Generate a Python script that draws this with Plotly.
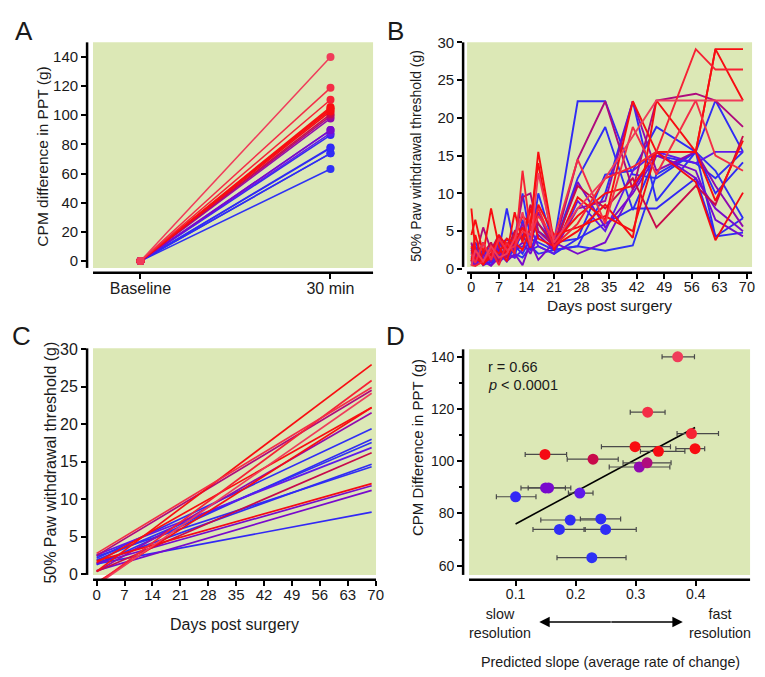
import numpy as np
import plotly.graph_objects as go

W, H = 765, 677

# ------------------------------------------------------------------ data
subject_ids = [f"S{i:02d}" for i in range(1, 20)]
# CPM difference at 30 min (panel A / panel D y values)
cpm_difference = [140.0, 118.8, 110.6, 105.6, 104.8, 103.8, 100.8, 99.4, 97.8, 102.6,
                  89.8, 89.8, 86.4, 87.8, 77.5, 77.9, 73.9, 73.9, 63.1]
baseline_difference = 0.0
# predicted slope (panel D x values, also slope of panel C lines)
predicted_slope = [0.370, 0.320, 0.393, 0.299, 0.399, 0.338, 0.229, 0.319, 0.306, 0.149,
                   0.150, 0.155, 0.100, 0.207, 0.191, 0.242, 0.250, 0.173, 0.227]
slope_err_minus = [0.026, 0.029, 0.024, 0.056, 0.032, 0.030, 0.043, 0.040, 0.050, 0.033,
                   0.041, 0.034, 0.032, 0.019, 0.049, 0.034, 0.036, 0.044, 0.058]
slope_err_plus = [0.028, 0.029, 0.045, 0.059, 0.016, 0.044, 0.042, 0.040, 0.051, 0.036,
                  0.033, 0.037, 0.034, 0.022, 0.049, 0.033, 0.051, 0.043, 0.057]
# intercepts of the individual fitted lines (panel C)
fit_intercept = [-1.4, 2.8, -1.3, 1.6, 0.4, -1.1, 0.4, 2.5, 0.4, 1.8,
                 1.45, 0.5, 1.4, 2.6, 1.5, 1.3, 2.15, 2.4, 1.9]
fit_days = [0, 69]

timepoint_labels = ["Baseline", "30 min"]

# panel B: 50% paw withdrawal threshold per subject
survey_days = [0, 1, 3, 5, 7, 9, 11, 13, 15, 17, 21, 27, 34, 41, 47, 57, 62, 69]
pwt_s01 = [0.4, 2.5, 1.0, 3.0, 1.5, 2.0, 4.0, 7.5, 3.0, 12.7, 3.5, 8.0, 12.0, 17.5, 22.3, 22.3, 22.3, 22.3]
pwt_s02 = [2.0, 0.8, 3.5, 1.2, 4.0, 2.5, 3.0, 5.0, 4.5, 7.0, 4.0, 14.5, 6.0, 18.8, 12.5, 22.3, 15.0, 13.0]
pwt_s03 = [0.5, 0.4, 1.0, 2.5, 0.5, 3.5, 2.0, 13.0, 5.0, 8.0, 3.0, 6.0, 12.0, 13.5, 15.5, 29.1, 26.4, 26.4]
pwt_s04 = [8.0, 2.5, 0.5, 3.0, 2.0, 4.0, 3.5, 2.5, 5.5, 15.5, 3.5, 7.0, 10.0, 11.0, 15.5, 15.5, 9.0, 17.0]
pwt_s05 = [4.5, 6.5, 2.0, 8.0, 3.0, 1.0, 4.5, 7.0, 6.0, 14.0, 2.5, 9.5, 6.5, 22.2, 15.5, 15.5, 29.1, 29.1]
pwt_s06 = [1.0, 4.5, 0.8, 1.5, 4.0, 2.0, 7.5, 3.5, 8.0, 4.0, 3.0, 5.0, 8.5, 4.1, 22.3, 15.5, 29.1, 22.3]
pwt_s07 = [2.5, 1.0, 2.0, 3.5, 1.0, 2.5, 5.0, 4.0, 8.5, 6.0, 3.0, 11.0, 8.0, 12.0, 5.5, 11.0, 8.5, 17.6]
pwt_s08 = [3.5, 1.5, 5.5, 2.5, 4.5, 1.5, 3.5, 9.5, 10.0, 5.0, 3.0, 14.5, 22.2, 10.5, 22.3, 23.2, 22.3, 18.8]
pwt_s09 = [1.5, 0.8, 2.0, 1.0, 3.0, 4.0, 2.5, 6.0, 3.5, 7.5, 2.5, 8.0, 9.0, 22.2, 13.0, 15.5, 11.0, 5.6]
pwt_s10 = [3.0, 1.5, 0.6, 2.0, 4.5, 3.0, 3.5, 5.5, 2.8, 8.5, 4.5, 5.5, 7.0, 5.0, 15.5, 11.5, 3.8, 10.1]
pwt_s11 = [1.0, 2.0, 0.5, 1.5, 2.5, 1.0, 2.0, 0.5, 3.5, 1.2, 3.5, 2.0, 3.5, 10.5, 15.5, 12.0, 8.0, 5.0]
pwt_s12 = [0.8, 0.5, 1.0, 0.4, 1.5, 3.0, 2.5, 3.5, 2.0, 4.5, 2.5, 11.5, 5.5, 10.0, 15.0, 13.0, 6.5, 4.3]
pwt_s13 = [3.3, 2.5, 0.5, 1.0, 2.0, 1.5, 2.5, 3.0, 2.5, 3.0, 2.0, 4.0, 6.0, 8.0, 8.0, 12.0, 4.3, 4.8]
pwt_s14 = [1.2, 0.6, 1.5, 2.5, 0.8, 2.0, 1.5, 2.5, 5.5, 3.0, 2.0, 9.0, 5.0, 13.0, 15.5, 14.0, 15.5, 15.5]
pwt_s15 = [2.8, 1.0, 3.5, 0.8, 2.5, 8.0, 3.0, 4.5, 2.5, 5.0, 3.5, 4.0, 12.5, 13.0, 18.8, 15.5, 10.0, 14.1]
pwt_s16 = [1.5, 3.0, 1.0, 2.0, 1.0, 2.5, 4.0, 10.0, 4.0, 6.0, 3.5, 22.2, 22.2, 12.5, 12.0, 15.5, 22.3, 15.5]
pwt_s17 = [0.5, 1.5, 2.5, 1.0, 3.5, 2.0, 1.5, 6.5, 3.0, 10.0, 3.0, 12.0, 18.8, 7.8, 15.0, 14.0, 12.0, 15.5]
pwt_s18 = [2.0, 3.5, 1.5, 0.5, 2.0, 1.0, 3.0, 2.0, 4.0, 3.5, 2.5, 3.0, 10.0, 22.2, 9.0, 15.5, 4.3, 6.7]
pwt_s19 = [1.0, 0.5, 2.0, 3.0, 1.0, 3.5, 2.0, 1.5, 3.0, 2.0, 2.5, 3.0, 2.4, 3.1, 12.5, 15.5, 13.0, 6.7]
pwt_all = [pwt_s01, pwt_s02, pwt_s03, pwt_s04, pwt_s05, pwt_s06, pwt_s07, pwt_s08, pwt_s09, pwt_s10,
           pwt_s11, pwt_s12, pwt_s13, pwt_s14, pwt_s15, pwt_s16, pwt_s17, pwt_s18, pwt_s19]

day_ticks = list(range(0, 71, 7))
cpm_ticks_a = list(range(0, 141, 20))
pwt_ticks = list(range(0, 31, 5))
cpm_ticks_d = list(range(60, 141, 20))
slope_ticks = [0.1, 0.2, 0.3, 0.4]
r_text = "r = 0.66"
p_text = "<i>p</i> < 0.0001"

# ------------------------------------------------------------------ style helpers
GREEN = "#DCE8B6"
FONT = "Arial, 'Liberation Sans', sans-serif"
TXT = "#1a1a1a"

anchor_cpm = [60, 86.4, 87.8, 89.8, 97.8, 99.4, 100.8, 102.6, 106, 112, 140]
anchor_rgb = [(45, 50, 245), (50, 40, 245), (95, 25, 235), (120, 10, 205), (145, 10, 175),
              (175, 10, 125), (200, 10, 75), (245, 10, 20), (250, 15, 15), (245, 40, 65), (240, 60, 90)]


def cpm_color(v):
    ch = [np.interp(v, anchor_cpm, [c[k] for c in anchor_rgb]) for k in range(3)]
    return "rgb(%d,%d,%d)" % tuple(int(round(c)) for c in ch)


def fx(px):
    return px / W


def fy(py):
    return 1 - py / H


order = np.argsort(cpm_difference, kind="stable")
colors = [cpm_color(v) for v in cpm_difference]

fig = go.Figure()

# ---------------- Panel A
for i in order:
    fig.add_trace(go.Scatter(
        x=[0, 1], y=[baseline_difference, cpm_difference[i]], mode="lines+markers",
        line=dict(color=colors[i], width=1.5), marker=dict(color=colors[i], size=8),
        xaxis="x", yaxis="y", showlegend=False, hoverinfo="skip"))

# ---------------- Panel B
for i in order:
    fig.add_trace(go.Scatter(
        x=survey_days, y=pwt_all[i], mode="lines",
        line=dict(color=colors[i], width=1.9),
        xaxis="x2", yaxis="y2", showlegend=False, hoverinfo="skip"))

# ---------------- Panel C
for i in order:
    fig.add_trace(go.Scatter(
        x=fit_days, y=[fit_intercept[i] + predicted_slope[i] * d for d in fit_days],
        mode="lines", line=dict(color=colors[i], width=1.7),
        xaxis="x3", yaxis="y3", showlegend=False, hoverinfo="skip"))

# ---------------- Panel D
b1, b0 = np.polyfit(predicted_slope, cpm_difference, 1)
xs = [min(predicted_slope), max(predicted_slope)]
fig.add_trace(go.Scatter(
    x=xs, y=[b0 + b1 * v for v in xs], mode="lines", line=dict(color="black", width=1.6),
    xaxis="x4", yaxis="y4", showlegend=False, hoverinfo="skip"))
fig.add_trace(go.Scatter(
    x=[predicted_slope[i] for i in order], y=[cpm_difference[i] for i in order], mode="markers",
    marker=dict(color=[colors[i] for i in order], size=11),
    error_x=dict(type="data", symmetric=False,
                 array=[slope_err_plus[i] for i in order],
                 arrayminus=[slope_err_minus[i] for i in order],
                 color="#4a4a4a", thickness=1.2, width=2.5),
    xaxis="x4", yaxis="y4", showlegend=False, hoverinfo="skip"))

# ---------------- axes
panels = {
    # name: (x domain px, y domain px (top, bottom), x range, y range, green inset px (left, bottom))
    "1": ((88, 377), (34, 269), [-0.281, 1.224], [-8.1, 150], (6, 5)),
    "2": ((468, 760), (34, 269), [-2.1, 71.3], [-0.52, 30.0], (4, 6)),
    "3": ((88, 380), (346, 582), [-2.4, 70.1], [-0.72, 30.1], (6, 5)),
    "4": ((468, 758), (347, 582), [0.0126, 0.4906], [54.6, 142.85], (6, 5)),
}

tick_common = dict(ticks="outside", ticklen=5, tickwidth=2, tickcolor="black",
                   showgrid=False, zeroline=False, showline=False,
                   tickfont=dict(family=FONT, color=TXT))

layout_axes = {}
shapes = []
for k, ((x0, x1), (yt, yb), xr, yr, (gl, gb)) in panels.items():
    xa = "xaxis" if k == "1" else f"xaxis{k}"
    ya = "yaxis" if k == "1" else f"yaxis{k}"
    xid = "x" if k == "1" else f"x{k}"
    yid = "y" if k == "1" else f"y{k}"
    layout_axes[xa] = dict(domain=[fx(x0), fx(x1)], range=xr, anchor=yid,
                           ticklabelstandoff=-4, **tick_common)
    layout_axes[ya] = dict(domain=[fy(yb), fy(yt)], range=yr, anchor=xid,
                           ticklabelstandoff=0, **tick_common)
    gx = gl / (x1 - x0)
    gy = gb / (yb - yt)
    shapes.append(dict(type="rect", xref=f"{xid} domain", yref=f"{yid} domain",
                       x0=gx, x1=1, y0=gy, y1=1, fillcolor=GREEN, line=dict(width=0), layer="below"))
    shapes.append(dict(type="line", xref=f"{xid} domain", yref=f"{yid} domain",
                       x0=0, x1=0, y0=gy, y1=1, line=dict(color="black", width=2.5)))
    shapes.append(dict(type="line", xref=f"{xid} domain", yref=f"{yid} domain",
                       x0=gx, x1=1, y0=0, y1=0, line=dict(color="black", width=2.5)))

layout_axes["xaxis"].update(tickmode="array", tickvals=[0, 1], ticktext=timepoint_labels,
                            tickfont=dict(family=FONT, color=TXT, size=16))
layout_axes["yaxis"].update(tickmode="array", tickvals=cpm_ticks_a,
                            tickfont=dict(family=FONT, color=TXT, size=15))
layout_axes["xaxis2"].update(tickmode="array", tickvals=day_ticks,
                             tickfont=dict(family=FONT, color=TXT, size=14.5))
layout_axes["yaxis2"].update(tickmode="array", tickvals=pwt_ticks,
                             tickfont=dict(family=FONT, color=TXT, size=15))
layout_axes["xaxis3"].update(tickmode="array", tickvals=day_ticks,
                             tickfont=dict(family=FONT, color=TXT, size=15))
layout_axes["yaxis3"].update(tickmode="array", tickvals=pwt_ticks,
                             tickfont=dict(family=FONT, color=TXT, size=16))
layout_axes["xaxis4"].update(tickmode="array", tickvals=slope_ticks,
                             tickfont=dict(family=FONT, color=TXT, size=14))
layout_axes["yaxis4"].update(tickmode="array", tickvals=cpm_ticks_d,
                             tickfont=dict(family=FONT, color=TXT, size=14),
                             minor=dict(ticks="outside", dtick=10, ticklen=3, tickwidth=1.5,
                                        tickcolor="black"))

# ---------------- annotations


def txt(x, y, text, size, angle=0, xanchor="center", yanchor="middle"):
    return dict(x=fx(x), y=fy(y), xref="paper", yref="paper", text=text, showarrow=False,
                textangle=angle, xanchor=xanchor, yanchor=yanchor,
                font=dict(family=FONT, size=size, color=TXT))


annotations = [
    txt(24, 22, "A", 26), txt(400, 22, "B", 26), txt(22, 333, "C", 26), txt(400, 333, "D", 26),
    txt(43, 151, "CPM difference in PPT (g)", 15.5, -90),
    txt(421, 150, "50% Paw withdrawal threshold (g)", 14, -90),
    txt(616, 302, "Days post surgery", 15.5),
    txt(51, 462, "50% Paw withdrawal threshold (g)", 16, -90),
    txt(237, 628, "Days post surgery", 16),
    txt(422, 447, "CPM Difference in PPT (g)", 15, -90),
    txt(617, 666, "Predicted slope (average rate of change)", 14.3),
    txt(505, 627, "slow<br>resolution", 14.3),
    txt(728, 627, "fast<br>resolution", 14.3),
    txt(491, 365, r_text, 14.5, xanchor="left"),
    txt(491, 383, p_text, 14.5, xanchor="left"),
]
for tip, off in [(545, 73), (690, -73)]:
    annotations.append(dict(x=fx(tip), y=fy(625), xref="paper", yref="paper", text="",
                            showarrow=True, ax=off, ay=0, axref="pixel", ayref="pixel",
                            arrowhead=2, arrowsize=1.6, arrowwidth=1.3, arrowcolor="black",
                            standoff=0, startstandoff=0))

fig.update_layout(
    width=W, height=H, margin=dict(l=0, r=0, t=0, b=0),
    paper_bgcolor="white", plot_bgcolor="white",
    font=dict(family=FONT, color=TXT),
    showlegend=False, shapes=shapes, annotations=annotations,
    **layout_axes,
)

page_fix = (
    "document.documentElement.style.margin='0';"
    "document.documentElement.style.overflow='hidden';"
    "document.body.style.margin='0';document.body.style.padding='0';"
    "document.body.style.overflow='hidden';"
    "var gd=document.getElementById('{plot_id}');"
    "gd.style.position='fixed';gd.style.left='0px';gd.style.top='0px';"
)
fig.write_html("out.html", config={"displayModeBar": False}, post_script=page_fix)
